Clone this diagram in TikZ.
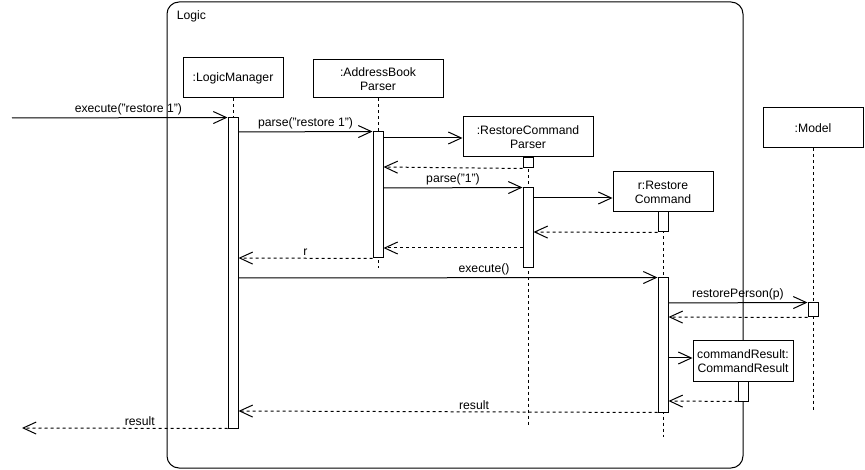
\documentclass[tikz,border=0pt]{standalone}
\usepackage{fontspec}
\setmainfont{Liberation Sans}
\usetikzlibrary{arrows.meta}
\begin{document}
\begin{tikzpicture}[x=1pt,y=-1pt,line width=1pt,font=\fontsize{12.2}{14}\selectfont,
    msg/.style={draw,-{Straight Barb[length=13pt,width=12pt]}},
    ret/.style={msg,dash pattern=on 3pt off 3pt},
    life/.style={draw,dash pattern=on 3pt off 3pt},
    lbl/.style={above,inner sep=2pt}]

        \useasboundingbox (0,0) rectangle (865,470);

        % frame
        \draw[rounded corners=12pt] (167,2) rectangle (743,468);
        \node[anchor=west] (logic) at (173,16) {Logic};

        \begin{scope}[every node/.style={draw,fill=white,align=center,
            minimum width=100pt,minimum height=40pt,inner sep=1pt}]
          \node (lm)  at (233,78)  {:LogicManager};
          \node (abp) at (378,79)  [minimum width=130pt,minimum height=38pt] {:AddressBook\\Parser};
          \node (rcp) at (528,137) [minimum width=130pt] {:RestoreCommand\\Parser};
          \node (rc)  at (663,192) {r:Restore\\Command};
          \node (mdl) at (813,128) {:Model};
          \node (cr)  at (743,361) {commandResult:\\CommandResult};
        \end{scope}

        % lifelines
        \coordinate (lmEnd)  at (233,428);
        \coordinate (abpEnd) at (378,268);
        \coordinate (rcpEnd) at (528,425);
        \coordinate (rcEnd)  at (663,437);
        \coordinate (mdlEnd) at (813,410);
        \path[life] (lm)  -- (lmEnd);
        \path[life] (abp) -- (abpEnd);
        \path[life] (rcp) -- (rcpEnd);
        \path[life] (rc)  -- (rcEnd);
        \path[life] (mdl) -- (mdlEnd);

        % activation bars
        \begin{scope}[every node/.style={draw,fill=white,minimum width=10pt,inner sep=0pt}]
          \node (a1) at (233,273) [minimum height=310pt] {};
          \node (a2) at (378,195) [minimum height=126pt] {};
          \node (a3) at (528,163) [minimum height=10pt]  {};
          \node (a4) at (528,228) [minimum height=80pt]  {};
          \node (a5) at (663,222) [minimum height=20pt]  {};
          \node (a6) at (663,345) [minimum height=134pt] {};
          \node (a7) at (813,310) [minimum height=14pt]  {};
          \node (a8) at (743,391) [minimum height=20pt]  {};
        \end{scope}

        \coordinate (in)  at (12,118);
        \coordinate (out) at (22,428);

        % messages
        \path[msg] (in) -- node[lbl,pos=0.54] {execute("restore 1")} (a1.north west);
        \path[msg] (a1.east |- 0,132) -- node[lbl] {parse("restore 1")} (a2.north west);
        \path[msg] (a2.east |- 0,138) -- (rcp.west |- 0,138);
        \path[ret] (a3.south west) -- (a2.east |- 0,167);
        \path[msg] (a2.east |- 0,188) -- node[lbl] {parse("1")} (a4.north west);
        \path[msg] (a4.east |- 0,198) -- (rc.west |- 0,198);
        \path[ret] (a5.south west) -- (a4.east |- 0,232);
        \path[ret] (a4.west |- 0,248) -- (a2.east |- 0,248);
        \path[ret] (a2.south west) -- node[lbl] {r} (a1.east |- 0,258);
        \path[msg] (a1.east |- 0,278) -- node[lbl,pos=0.586] {execute()} (a6.north west);
        \path[msg] (a6.east |- 0,303) -- node[lbl] {restorePerson(p)} (a7.north west);
        \path[ret] (a7.south west) -- (a6.east |- 0,317);
        \path[msg] (a6.east |- 0,358) -- (cr.west |- 0,358);
        \path[ret] (a8.south west) -- (a6.east |- 0,401);
        \path[ret] (a6.south west) -- node[lbl,pos=0.438] {result} (a1.east |- 0,411);
        \path[ret] (a1.south west) -- node[lbl,pos=0.427] {result} (out);

      \end{tikzpicture}
\end{document}
